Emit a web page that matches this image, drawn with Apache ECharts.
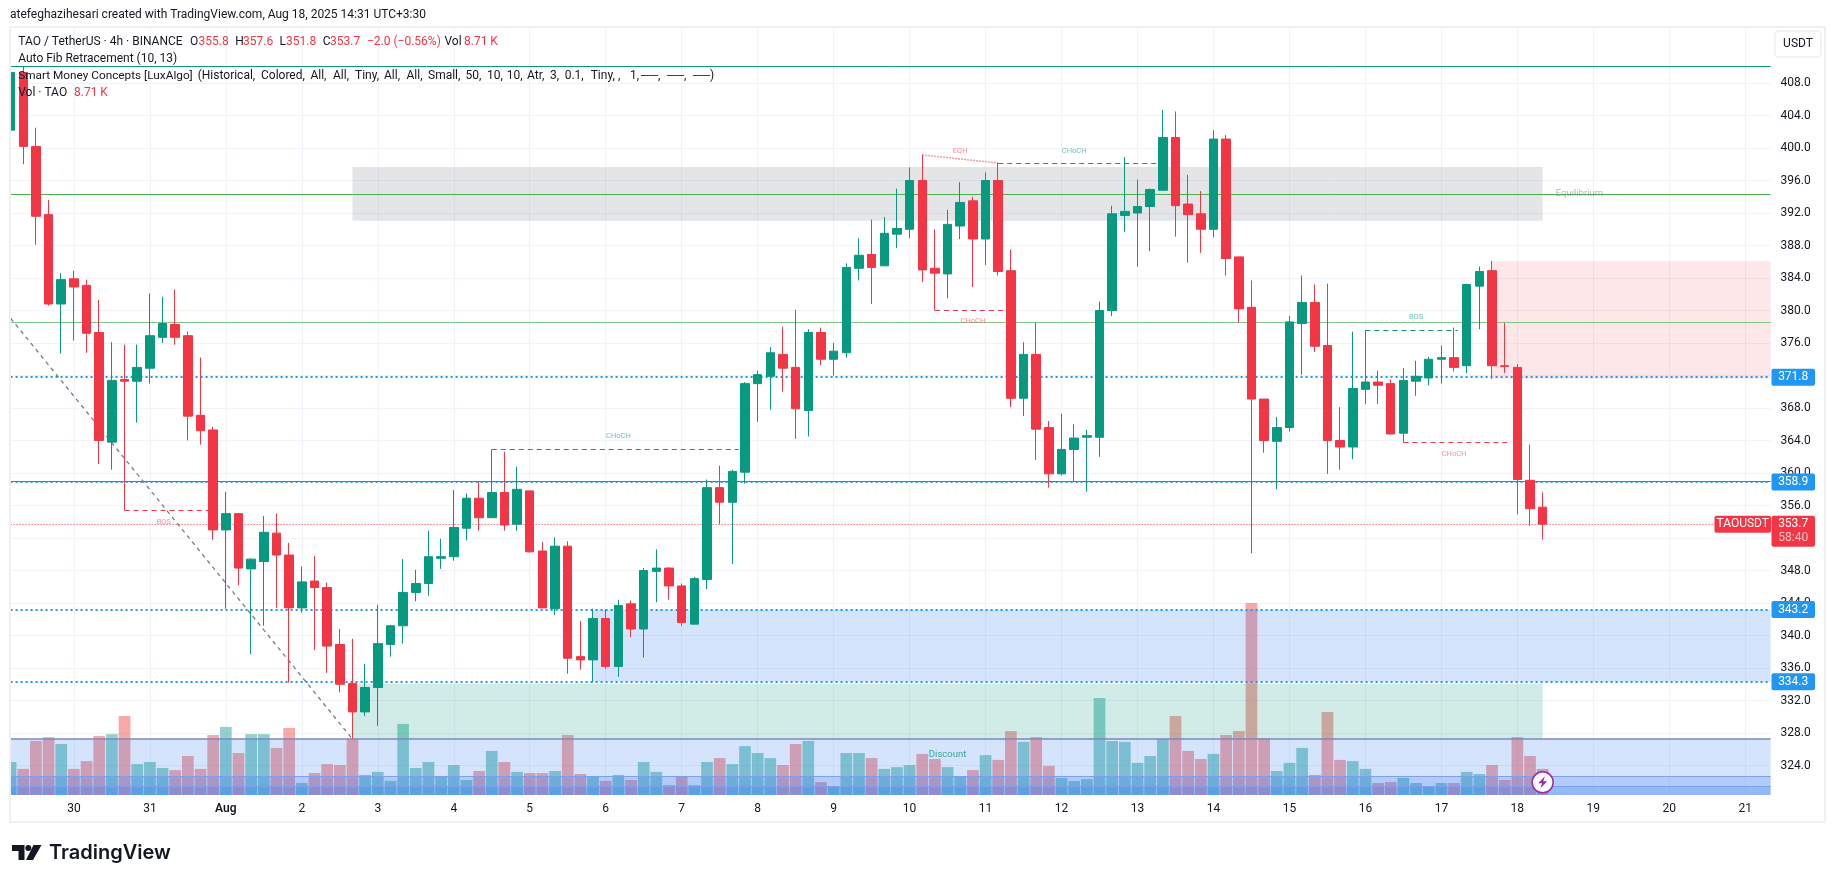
<!DOCTYPE html>
<html>
<head>
<meta charset="utf-8">
<title>TAOUSDT</title>
<script src="https://cdn.jsdelivr.net/npm/echarts@6/dist/echarts.min.js"></script>
<style>
  html, body { margin: 0; padding: 0; background: #fff; }
  #main { width: 1835px; height: 883px; }
</style>
</head>
<body>
<div id="main"></div>
<script>
// 4h candles, oldest first
var opens = [
  402.2,409.3,400.2,391.8,380.8,383.9,383.1,377.3,363.8,371.5,
  371.3,372.9,376.7,378.3,376.9,367.1,365.3,353,355,348.2,
  349.1,352.6,349.9,343.4,346.7,345.9,338.9,334.1,330.6,333.6,
  338.9,341.2,345.3,346.4,349.5,349.7,353.2,356.9,354.5,357.6,
  353.7,357.8,350.4,343.3,351,337.4,337,342.1,336.2,343.9,
  340.8,347.9,348.3,346.1,341.4,346.9,358.2,356.4,360.1,371,
  371.9,374.6,373,367.7,377.3,374,374.8,385.2,386.9,385.5,
  389.4,390,396,385.2,384.5,390.4,393.5,388.8,396,384.9,
  369.2,374.6,365.6,359.9,362.9,364.4,364.4,380,391.7,392,
  392.8,394.8,401.3,393.1,391.9,390,401.1,386.6,380.4,369.1,
  363.9,365.6,378.4,381,375.7,364,363.2,370.3,371.2,371,
  364.9,371.3,371.7,374,374.2,373.2,383,384.9,373.2,373,
  359.1,355.8
];
var closes = [
  409.3,400.2,391.6,380.8,383.8,382.9,377.2,364,371.4,371.3,
  373,376.9,378.4,376.7,367,365.2,353,355,348.3,349.4,
  352.7,349.9,343.4,346.6,345.9,338.7,334,330.6,333.6,339,
  341.2,345.3,346.4,349.7,349.7,353.3,356.9,354.5,357.6,353.6,
  358,350.3,343.4,351,337.2,337,342.1,336.2,343.7,340.8,
  348,348.3,346.1,341.6,347,358.2,356.4,360.2,371,372.1,
  374.8,372.9,367.9,377.3,374,375,385.3,386.8,385.3,389.5,
  390.1,396,385,384.6,390.6,393.3,388.8,396,384.8,369.2,
  374.6,365.4,359.9,362.9,364.3,364.6,380,391.9,392.2,392.8,
  394.9,401.3,392.9,391.8,390,401.1,386.4,380.2,369.1,364,
  365.6,378.6,381,375.6,364,363.2,370.4,371.2,370.8,364.8,
  371.4,371.9,374,374.2,373,383.2,384.8,373.2,373.1,359.2,
  355.6,353.7
];
var highs = [
  411.3,410,402.5,393.6,384.6,384.9,383.8,381.3,376.1,375.8,
  375.8,382.1,381.7,382.6,377.4,374.2,365.7,357.7,355,349.5,
  354.7,355,351.4,348.5,349.8,346.5,340.8,339.6,336.5,343.8,
  341.3,349.4,348.1,352.9,351.9,357.9,357.5,358.9,362.9,362.6,
  360.8,357.8,351.5,352.1,351.6,341.8,343.3,343.2,344.4,344.3,
  348.3,350.6,348.4,346.4,347.2,359.2,360.9,360.4,371.2,372.6,
  375.5,378,380.1,377.7,377.9,376,385.8,388.9,391.2,391.5,
  395,397.6,399.2,390,392.4,395.8,394,397,398.2,387.5,
  376.1,378.5,366.4,367.3,366,365.3,381.1,392.9,398.9,396.1,
  395,404.7,404.5,396.7,394.7,402.2,401.6,386.6,383.7,369.1,
  366.9,379.3,384.3,383.2,383.3,368.1,377.4,377.6,372.6,371.5,
  372.9,373.8,374.3,375.7,377.9,383.3,385.4,386.1,378.5,373.4,
  363.5,357.6
];
var lows = [
  398.5,398,388.1,380.6,374.7,376.3,374.8,361.1,360.4,355.4,
  366.2,371,376,375.8,364,363.5,351.8,343.3,346.2,337.7,
  341.2,343.4,334.2,342.8,338.2,335.4,333,327.3,330.1,328.9,
  337.4,339,344.2,344.9,348.2,349.2,351.7,352.9,354.5,352.9,
  352.9,350.2,343.4,342.5,335.3,335.8,334.3,335.9,334.9,339.8,
  337.3,344.1,344.4,341.2,341.4,345.7,353.7,348.8,358.7,366.3,
  367.8,370,364.2,364.5,373.3,372,374.2,383.7,380.8,385.5,
  387.7,388.9,383.5,380,381.5,388.8,382.9,385.6,384.3,368.1,
  367,361.6,358.2,359.7,358.9,357.7,362,379.3,389.7,385.4,
  387.3,394.8,389.1,385.9,387.1,389,384.3,378.5,350.1,362.5,
  358,365.1,372.1,374.9,359.9,360.4,361.7,368.5,368.5,364.8,
  363.8,369.5,370.8,371,372.5,372.3,377.7,371.6,372.3,354.9,
  353.5,351.8
];
// volume in K
var volumes = [
  11,8.7,18,19.3,17,8.7,11.3,19.7,20.3,26.3,
  10.3,11,9,8.3,13,8.7,20,22.7,14,20.3,
  20.3,15.7,22.3,4,7.3,10.3,10,18.7,6.7,7.7,
  4.7,23.7,9,11,6.3,10,5,8,14.7,11,
  7.7,7.3,7.3,8,20,7,6.3,4.7,6.7,5,
  11,7.7,3.3,6.3,3.3,11,12.3,10.3,16.3,14,
  12.3,10,17,18,4.3,3,14,14,12.3,8.7,
  9.3,10,13.7,12,9.3,6,8.3,13.3,11.7,21.3,
  17.7,19.3,9.7,5.7,4.7,5.3,32.3,18,17.7,10.7,
  13,18.7,26.3,14.7,12,13.7,20,21.3,64,19,
  8,10.7,15.7,6.7,27.7,11.7,11.3,8.7,4,4.3,
  5.7,4,2.7,4,4,7.7,7,10,5,19.3,
  13,8.71
];
var dayLabels = ['30','31','Aug','2','3','4','5','6','7','8','9','10','11','12','13','14','15','16','17','18','19','20','21'];
var priceTicks = [324,328,332,336,340,344,348,352,356,360,364,368,372,376,380,384,388,392,396,400,404,408];

// axis window, the last slots are empty space on the right
var slotCount = 140;
var firstDaySlot = 5;
var slotsPerDay = 6;
var priceMin = 320.37;
var priceMax = 414.77;
var volumeMax = 255.67;

// price levels tagged on the axis
var blueLevels = [371.8, 358.9, 343.2, 334.3];
var lastPrice = 353.7;

// zones: [from slot, to slot, top price, bottom price]
var premiumZone = [27, 121, 397.66, 391.05];
var discountZone = [27, 121, 334.07, 327.25];
var supplyZone = [117, 139, 386.1, 371.6];
var demandZone = [46, 139, 343.2, 334.3];
var fibZones = [
  [0, 139, 327.25, priceMin],
  [0, 139, 322.67, priceMin],
  [0, 139, 321.44, priceMin]
];

// structure segments: [from slot, to slot, price]
var redBreaks = [[9, 15.6, 355.4], [73, 79, 380], [110, 118.2, 363.8]];
var greenBreaks = [[38, 57.5, 362.9], [78, 90.6, 398.15], [107, 114.3, 377.55]];
var eqhSegment = [72, 399.15, 78, 398.15];
var fibDiagonal = [0, 379.05, 27, 327.25];

// small texts: [slot, price, text]
var redTags = [[12.1, 353.9, 'BOS'], [76, 378.65, 'CHoCH'], [75, 399.6, 'EQH'], [114, 362.3, 'CHoCH']];
var greenTags = [[48, 364.5, 'CHoCH'], [84, 399.6, 'CHoCH'], [111, 379.15, 'BOS']];

// second header line of the indicator, words with their x
var smcWords = [
  [197.7, '(Historical,'], [261, 'Colored,'], [310.4, 'All,'], [333, 'All,'], [355, 'Tiny,'],
  [384, 'All,'], [406.5, 'All,'], [428, 'Small,'], [465.4, '50,'], [487, '10,'], [506.7, '10,'],
  [527, 'Atr,'], [550, '3,'], [564.7, '0.1,'], [590.7, 'Tiny,'], [618, ','], [630, '1,'],
  [641, '──,'], [667, '──,'], [693, '──)']
];

var UP = '#089981';
var DOWN = '#f23645';
var BLUE = '#2196f3';
var INK = '#131722';
var FONT = 'Roboto, "Noto Sans", sans-serif';

var chartDom = document.getElementById('main');
var myChart = echarts.init(chartDom);

var slots = [];
for (var s = 0; s < slotCount; s++) {
  slots.push('slot' + s);
}

function isDaySlot(i) {
  return (i - firstDaySlot) % slotsPerDay === 0 && i >= firstDaySlot;
}

function zoneArea(z, color) {
  return [{ xAxis: z[0], yAxis: z[2], itemStyle: { color: color } }, { xAxis: z[1], yAxis: z[3] }];
}

function hLine(price, color, width, type) {
  return [
    { xAxis: 0, yAxis: price, lineStyle: { color: color, width: width, type: type } },
    { xAxis: 139, yAxis: price }
  ];
}

function segment(x1, y1, x2, y2, color, width, type) {
  return [
    { xAxis: x1, yAxis: y1, lineStyle: { color: color, width: width, type: type } },
    { xAxis: x2, yAxis: y2 }
  ];
}

var lineData = [
  hLine(410.1, UP, 1, 'solid'),
  hLine(394.3, '#4caf50', 1, 'solid'),
  hLine(378.55, '#81c784', 1, 'solid'),
  hLine(358.95, DOWN, 1, 'solid'),
  hLine(lastPrice, DOWN, 1, [1, 2]),
  hLine(327.25, '#7d88c4', 1.5, 'solid'),
  hLine(322.67, '#7f9fe8', 1, 'solid'),
  hLine(321.44, '#7f9fe8', 1, 'solid'),
  segment(fibDiagonal[0], fibDiagonal[1], fibDiagonal[2], fibDiagonal[3], '#787b86', 1.3, [4, 4]),
  segment(eqhSegment[0], eqhSegment[1], eqhSegment[2], eqhSegment[3], 'rgba(242,54,69,0.5)', 1.5, [2, 1])
];
blueLevels.forEach(function (p) {
  lineData.push(hLine(p, BLUE, 2, [2, 3]));
});
redBreaks.forEach(function (b) {
  lineData.push(segment(b[0], b[2], b[1], b[2], DOWN, 1, [5, 4]));
});
greenBreaks.forEach(function (b) {
  lineData.push(segment(b[0], b[2], b[1], b[2], UP, 1, [5, 4]));
});

function tagPoints(list, color, size) {
  return list.map(function (t) {
    return { value: [t[0], t[1]], label: { formatter: t[2], color: color, fontSize: size } };
  });
}

var option = {
  animation: false,
  textStyle: { fontFamily: FONT },
  grid: { left: 10.6, right: 64.4, top: 28, bottom: 88 },
  xAxis: [
    {
      type: 'category',
      boundaryGap: false,
      data: slots,
      axisLine: { show: false },
      axisTick: { show: false },
      axisLabel: {
        interval: function (i) { return isDaySlot(i); },
        formatter: function (v, i) {
          var day = dayLabels[(i - firstDaySlot) / slotsPerDay];
          return day === 'Aug' ? '{month|Aug}' : day;
        },
        rich: { month: { fontWeight: 600, fontSize: 12, color: INK } },
        color: INK,
        fontSize: 12,
        margin: 8
      },
      splitLine: {
        show: true,
        interval: function (i) { return isDaySlot(i); },
        lineStyle: { color: '#f0f3fa', width: 1 }
      }
    },
    // plain scale for zones and drawings, they fall between candles
    { type: 'value', min: 0, max: 139, show: false, splitLine: { show: false } }
  ],
  yAxis: [
    {
      type: 'value',
      position: 'right',
      min: priceMin,
      max: priceMax,
      axisLine: { show: false },
      axisTick: { show: false, customValues: priceTicks },
      axisLabel: {
        customValues: priceTicks,
        formatter: function (v) { return v.toFixed(1); },
        color: INK,
        fontSize: 12,
        padding: [2, 0, 0, 0],
        margin: 10
      },
      splitLine: { show: true, lineStyle: { color: '#f0f3fa', width: 1 } }
    },
    { type: 'value', min: 0, max: volumeMax, show: false, splitLine: { show: false } }
  ],
  series: [
    {
      name: 'Vol',
      type: 'bar',
      xAxisIndex: 0,
      yAxisIndex: 1,
      barWidth: 11.7,
      clip: true,
      z: 1,
      data: volumes.map(function (v, i) {
        return {
          value: v,
          itemStyle: { color: closes[i] > opens[i] ? 'rgba(38,166,154,0.5)' : 'rgba(239,83,80,0.5)' }
        };
      })
    },
    {
      name: 'drawings',
      type: 'line',
      xAxisIndex: 1,
      yAxisIndex: 0,
      data: [],
      z: 2,
      markArea: {
        silent: true,
        z: 2,
        data: [
          zoneArea(premiumZone, 'rgba(120,123,134,0.2)'),
          zoneArea(discountZone, 'rgba(8,153,129,0.19)'),
          zoneArea(supplyZone, 'rgba(242,54,69,0.12)'),
          zoneArea(demandZone, 'rgba(33,110,243,0.19)'),
          zoneArea(fibZones[0], 'rgba(33,110,243,0.19)'),
          zoneArea(fibZones[1], 'rgba(33,110,243,0.2)'),
          zoneArea(fibZones[2], 'rgba(33,110,243,0.2)')
        ]
      },
      markLine: {
        silent: true,
        z: 2,
        symbol: ['none', 'none'],
        label: { show: false },
        data: lineData
      }
    },
    {
      name: 'TAOUSDT',
      type: 'candlestick',
      xAxisIndex: 0,
      yAxisIndex: 0,
      barWidth: 9,
      z: 3,
      itemStyle: { color: UP, color0: DOWN, borderColor: UP, borderColor0: DOWN, borderWidth: 1 },
      data: opens.map(function (o, i) {
        return [o, closes[i], lows[i], highs[i]];
      }),
      markPoint: {
        silent: true,
        z: 6,
        label: { show: false },
        data: [
          {
            coord: [121, 321.93],
            symbol: 'circle',
            symbolSize: 21,
            itemStyle: { color: '#fff', borderColor: '#9c27b0', borderWidth: 1.5, shadowBlur: 0 }
          },
          {
            coord: [121, 321.93],
            symbol: 'path://M7 0 L1 7 L4.5 7 L3 12 L9 5 L5.5 5 Z',
            symbolSize: [9, 12],
            itemStyle: { color: '#9c27b0' }
          }
        ]
      }
    },
    {
      name: 'labels',
      type: 'scatter',
      xAxisIndex: 1,
      yAxisIndex: 0,
      symbolSize: 0,
      silent: true,
      z: 4,
      label: { show: true, position: 'inside', fontFamily: FONT },
      data: tagPoints(redTags, 'rgba(242,54,69,0.7)', 7.5)
        .concat(tagPoints(greenTags, 'rgba(8,153,129,0.75)', 7.5))
        .concat(tagPoints([[74, 325.4, 'Discount']], UP, 9.5))
        .concat(tagPoints([[123.9, 394.4, 'Equilibrium']], 'rgba(120,123,134,0.7)', 9.5))
    }
  ]
};
myChart.setOption(option);

function text(x, y, str, color, size, extra) {
  return {
    type: 'text',
    z: 20,
    silent: true,
    style: Object.assign({
      x: x, y: y, text: str, fill: color, fontSize: size, fontFamily: FONT,
      verticalAlign: 'middle', align: 'left'
    }, extra || {})
  };
}

function rect(x, y, w, h, fill, r, stroke) {
  return {
    type: 'rect',
    z: 19,
    silent: true,
    shape: { x: x, y: y, width: w, height: h, r: r || 0 },
    style: { fill: fill, stroke: stroke || null, lineWidth: stroke ? 1.5 : 0 }
  };
}

var red = '#f23645';
var gfx = [
  // the first candle and bar are cut by the pane edge
  rect(0, 20, 9.5, 810, '#fff'),
  { type: 'rect', z: 19, silent: true, shape: { x: 10, y: 27, width: 1815, height: 795 },
    style: { fill: 'none', stroke: '#f0f0f0', lineWidth: 2 } },
  text(10, 15, 'atefeghazihesari created with TradingView.com, Aug 18, 2025 14:31 UTC+3:30', INK, 12),
  text(18.2, 41.7, 'TAO / TetherUS · 4h · BINANCE', INK, 12),
  text(190, 41.7, 'O', INK, 12), text(198.5, 41.7, '355.8', red, 12),
  text(235.3, 41.7, 'H', INK, 12), text(243, 41.7, '357.6', red, 12),
  text(279.6, 41.7, 'L', INK, 12), text(286, 41.7, '351.8', red, 12),
  text(322.7, 41.7, 'C', INK, 12), text(330, 41.7, '353.7', red, 12),
  text(367, 41.7, '−2.0 (−0.56%)', red, 12),
  text(444.5, 41.7, 'Vol', INK, 12), text(464, 41.7, '8.71 K', red, 12),
  text(18.2, 59, 'Auto Fib Retracement (10, 13)', INK, 12),
  text(18.2, 76, 'Smart Money Concepts [LuxAlgo]', INK, 11.8),
  text(18.2, 92.7, 'Vol · TAO', INK, 12), text(74, 92.7, '8.71 K', red, 12),
  // USDT button
  rect(1775, 31, 46, 26, '#fff', 4, '#eceef2'),
  text(1798, 44, 'USDT', INK, 12, { align: 'center' }),
  // logo
  { type: 'polygon', z: 20, silent: true, shape: { points: [[12, 845], [24.5, 845], [24.5, 860], [18.5, 860], [18.5, 851], [12, 851]] }, style: { fill: INK } },
  { type: 'circle', z: 20, silent: true, shape: { cx: 28.3, cy: 848, r: 3 }, style: { fill: INK } },
  { type: 'polygon', z: 20, silent: true, shape: { points: [[33.5, 845], [41.5, 845], [33, 860], [26, 860]] }, style: { fill: INK } },
  text(49, 853, 'TradingView', INK, 20, { fontWeight: 600, fontFamily: 'Inter, sans-serif' })
];

smcWords.forEach(function (w) {
  gfx.push(text(w[0], 76, w[1], INK, 12));
});

// tags on the price axis sit on the axis labels
blueLevels.forEach(function (p) {
  var y = myChart.convertToPixel({ yAxisIndex: 0 }, p);
  gfx.push(rect(1771.5, y - 8.5, 43.5, 17, BLUE, 2));
  gfx.push(text(1793.2, y, p.toFixed(1), '#fff', 12, { align: 'center' }));
});
var lastY = myChart.convertToPixel({ yAxisIndex: 0 }, lastPrice);
gfx.push(rect(1714.5, lastY - 8.5, 56.5, 17, DOWN, 2));
gfx.push(text(1742.7, lastY, 'TAOUSDT', '#fff', 12, { align: 'center' }));
gfx.push(rect(1771.5, lastY - 8.5, 43.5, 31, DOWN, 2));
gfx.push(text(1793.2, lastY, lastPrice.toFixed(1), '#fff', 12, { align: 'center' }));
gfx.push(text(1793.2, lastY + 14, '58:40', '#ffc2c7', 12, { align: 'center' }));

myChart.setOption({ graphic: gfx });
</script>
</body>
</html>
